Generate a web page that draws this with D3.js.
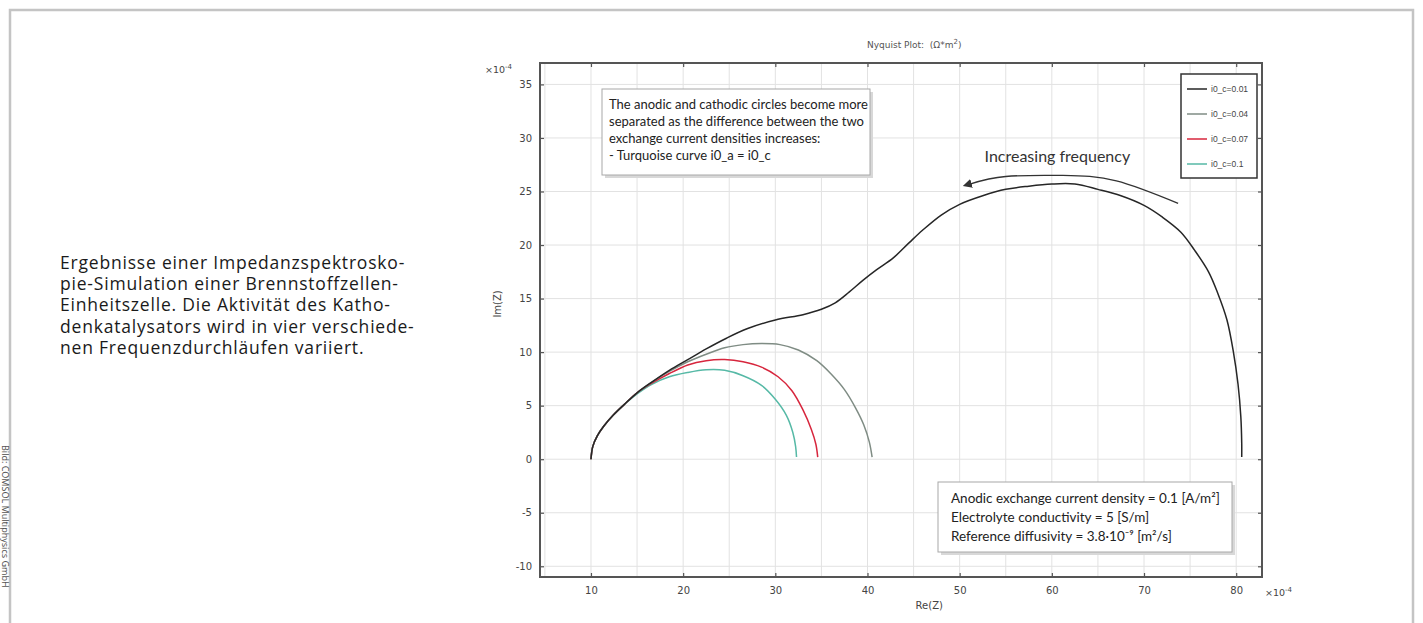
<!DOCTYPE html>
<html>
<head>
<meta charset="utf-8">
<script src="https://cdn.jsdelivr.net/npm/d3@7"></script>
<style>
  body { margin: 0; background: #fff; }
  svg { display: block; }
</style>
</head>
<body>
<div id="chart"></div>
<script>
// Input Data (units of 1e-4 Ohm*m^2)
var seriesNames = ["i0_c=0.01", "i0_c=0.04", "i0_c=0.07", "i0_c=0.1"];
var seriesColors = ["#262626", "#7f8c84", "#d7263d", "#56b9a6"];

var re001 = [10, 10.2, 10.7, 11.4, 12.4, 13.6, 15, 16.6, 18.5, 20.5, 22.5, 24.7, 27, 30, 33, 35, 36.5, 38, 39.5, 41, 42.8, 44.5, 46, 48, 50, 52.5, 55, 57.5, 60, 62.5, 65, 67.5, 70, 72, 74, 75.5, 77, 78, 79, 79.7, 80.2, 80.5, 80.6, 80.6];
var im001 = [0, 1.2, 2.2, 3.1, 4.1, 5.1, 6.2, 7.2, 8.3, 9.3, 10.3, 11.3, 12.2, 13, 13.5, 14, 14.6, 15.6, 16.7, 17.7, 18.8, 20.2, 21.4, 22.8, 23.8, 24.6, 25.2, 25.5, 25.7, 25.7, 25.2, 24.6, 23.7, 22.6, 21.2, 19.5, 17.5, 15.5, 13, 10, 7, 4, 1.5, 0.2];

var re004 = [10, 10.2, 10.7, 11.4, 12.4, 13.6, 15, 16.6, 18.5, 20.5, 22.5, 24.5, 26.5, 28.5, 30.5, 32.5, 34.5, 36, 37.5, 38.7, 39.6, 40.2, 40.5];
var im004 = [0, 1.2, 2.2, 3.1, 4.1, 5.1, 6.2, 7.2, 8.2, 9.1, 9.8, 10.4, 10.7, 10.8, 10.7, 10.2, 9.2, 8, 6.5, 4.8, 3.2, 1.6, 0.2];

var re007 = [10, 10.2, 10.7, 11.4, 12.4, 13.6, 15, 16.6, 18.5, 20.5, 22.5, 24.5, 26.5, 28.5, 30.3, 31.8, 33, 33.9, 34.4, 34.6];
var im007 = [0, 1.2, 2.2, 3.1, 4.1, 5.1, 6.2, 7.1, 8.0, 8.8, 9.2, 9.3, 9.1, 8.6, 7.7, 6.4, 4.6, 2.8, 1.4, 0.2];

var re01 = [10, 10.2, 10.7, 11.4, 12.4, 13.6, 15, 16.6, 18.5, 20.5, 22.5, 24.5, 26.5, 28.5, 30, 31.2, 31.9, 32.2, 32.3];
var im01 = [0, 1.2, 2.2, 3.1, 4.1, 5.1, 6.1, 7.0, 7.7, 8.1, 8.35, 8.3, 7.8, 6.9, 5.6, 4.1, 2.5, 1.2, 0.2];

var xTicks = [10, 20, 30, 40, 50, 60, 70, 80];
var yTicks = [-10, -5, 0, 5, 10, 15, 20, 25, 30, 35];
var gridX = [5, 10, 15, 20, 25, 30, 35, 40, 45, 50, 55, 60, 65, 70, 75, 80];
var gridY = [-10, -5, 0, 5, 10, 15, 20, 25, 30, 35];

// arrow for "Increasing frequency"
var arrowRe = [73.7, 67, 61.2, 55, 51.1];
var arrowIm = [23.9, 26.0, 26.5, 26.4, 25.7];

var noteLines = ["The anodic and cathodic circles become more",
                 "separated as the difference between the two",
                 "exchange current densities increases:",
                 "- Turquoise curve i0_a = i0_c"];
var paramLines = ["Anodic exchange current density = 0.1 [A/m\u00b2]",
                  "Electrolyte conductivity = 5 [S/m]",
                  "Reference diffusivity = 3.8\u00b710\u207b\u2079 [m\u00b2/s]"];
var captionLines = ["Ergebnisse einer Impedanzspektrosko-",
                    "pie-Simulation einer Brennstoffzellen-",
                    "Einheitszelle. Die Aktivit\u00e4t des Katho-",
                    "denkatalysators wird in vier verschiede-",
                    "nen Frequenzdurchl\u00e4ufen variiert."];

var series = [
      { name: seriesNames[0], color: seriesColors[0], re: re001, im: im001 },
      { name: seriesNames[1], color: seriesColors[1], re: re004, im: im004 },
      { name: seriesNames[2], color: seriesColors[2], re: re007, im: im007 },
      { name: seriesNames[3], color: seriesColors[3], re: re01, im: im01 }
];

var W = 1423, H = 623;
var plot = { left: 540, right: 1262, top: 63, bottom: 577 };

var svg = d3.select("#chart")
      .append("svg")
      .attr("width", W)
      .attr("height", H);

var defs = svg.append("defs");
defs.append("marker")
      .attr("id", "arrowhead")
      .attr("viewBox", "0 0 10 10")
      .attr("refX", 2).attr("refY", 5)
      .attr("markerWidth", 7).attr("markerHeight", 7)
      .attr("orient", "auto-start-reverse")
      .append("path")
      .attr("d", "M0,0 L10,5 L0,10 z")
      .attr("fill", "#333");

// page frame
svg.append("path")
      .attr("d", "M10,623 L10,10 L1413,10 L1413,623")
      .attr("fill", "none")
      .attr("stroke", "#c4c4c4")
      .attr("stroke-width", 2.5);

// credit text
svg.append("text")
      .attr("transform", "translate(2,445)rotate(90)")
      .attr("font-family", "Noto Sans")
      .attr("font-size", 9)
      .attr("fill", "#555")
      .text("Bild: COMSOL Multiphysics GmbH");

// caption on the left
svg.append("g").selectAll("text")
      .data(captionLines)
      .enter()
      .append("text")
      .attr("x", 60)
      .attr("y", function (d, i) { return 269 + i * 21.2; })
      .attr("font-family", "Open Sans")
      .attr("font-size", 17.5)
      .attr("letter-spacing", 0.8)
      .attr("fill", "#1a1a1a")
      .text(function (d) { return d; });

// scales
var xScale = d3.scaleLinear().domain([4.47, 82.8]).range([plot.left, plot.right]);
var yScale = d3.scaleLinear().domain([-11, 37]).range([plot.bottom, plot.top]);

// title
svg.append("text")
      .attr("x", 867).attr("y", 48)
      .attr("font-family", "DejaVu Sans")
      .attr("font-size", 9)
      .attr("fill", "#555")
      .html("Nyquist Plot: &#160;(\u03a9*m<tspan dy='-4' font-size='7'>2</tspan><tspan dy='4'>)</tspan>");

// grid
var grid = svg.append("g").attr("stroke", "#e2e2e2").attr("stroke-width", 1);
grid.selectAll("line.gx")
      .data(gridX)
      .enter()
      .append("line")
      .attr("x1", function (d) { return xScale(d); })
      .attr("x2", function (d) { return xScale(d); })
      .attr("y1", plot.top)
      .attr("y2", plot.bottom);
grid.selectAll("line.gy")
      .data(gridY)
      .enter()
      .append("line")
      .attr("x1", plot.left)
      .attr("x2", plot.right)
      .attr("y1", function (d) { return yScale(d); })
      .attr("y2", function (d) { return yScale(d); });

// axes
function styleAxis(g) {
      g.select(".domain").remove();
      g.selectAll(".tick line").attr("stroke", "#555").attr("stroke-width", 1.2);
      g.selectAll("text")
            .attr("font-family", "DejaVu Sans")
            .attr("font-size", 10)
            .attr("fill", "#444");
}
svg.append("g")
      .attr("transform", "translate(0," + plot.bottom + ")")
      .call(d3.axisBottom(xScale).tickValues(xTicks).tickSizeInner(-4).tickSizeOuter(0).tickPadding(10))
      .call(styleAxis);
svg.append("g")
      .attr("transform", "translate(0," + plot.top + ")")
      .call(d3.axisTop(xScale).tickValues(xTicks).tickSizeInner(-4).tickSizeOuter(0).tickFormat(""))
      .call(styleAxis);
svg.append("g")
      .attr("transform", "translate(" + plot.left + ",0)")
      .call(d3.axisLeft(yScale).tickValues(yTicks).tickSizeInner(-4).tickSizeOuter(0).tickPadding(8)
            .tickFormat(function (d) { return String(d); }))
      .call(styleAxis);
svg.append("g")
      .attr("transform", "translate(" + plot.right + ",0)")
      .call(d3.axisRight(yScale).tickValues(yTicks).tickSizeInner(-4).tickSizeOuter(0).tickFormat(""))
      .call(styleAxis);

// exponent labels and axis titles
svg.append("text")
      .attr("x", 512).attr("y", 73)
      .attr("text-anchor", "end")
      .attr("font-family", "DejaVu Sans").attr("font-size", 9.5).attr("fill", "#444")
      .html("\u00d710<tspan dy='-4' font-size='7'>-4</tspan>");
svg.append("text")
      .attr("x", 1265).attr("y", 596)
      .attr("font-family", "DejaVu Sans").attr("font-size", 9.5).attr("fill", "#444")
      .html("\u00d710<tspan dy='-4' font-size='7'>-4</tspan>");
svg.append("text")
      .attr("x", xScale(46.7)).attr("y", 609)
      .attr("text-anchor", "middle")
      .attr("font-family", "DejaVu Sans").attr("font-size", 10).attr("fill", "#444")
      .text("Re(Z)");
svg.append("text")
      .attr("transform", "translate(501," + yScale(14.5) + ")rotate(-90)")
      .attr("text-anchor", "middle")
      .attr("font-family", "DejaVu Sans").attr("font-size", 10).attr("fill", "#444")
      .text("Im(Z)");

// curves
var line = d3.line()
      .x(function (d) { return xScale(d[0]); })
      .y(function (d) { return yScale(d[1]); })
      .curve(d3.curveCatmullRom);

svg.append("g").selectAll("path")
      .data(series.slice().reverse())
      .enter()
      .append("path")
      .attr("d", function (s) { return line(d3.zip(s.re, s.im)); })
      .attr("fill", "none")
      .attr("stroke", function (s) { return s.color; })
      .attr("stroke-width", 1.5);

// plot frame
svg.append("rect")
      .attr("x", plot.left).attr("y", plot.top)
      .attr("width", plot.right - plot.left)
      .attr("height", plot.bottom - plot.top)
      .attr("fill", "none")
      .attr("stroke", "#555")
      .attr("stroke-width", 2);

// note box (top left)
var note = svg.append("g");
note.append("rect")
      .attr("x", 605).attr("y", 92).attr("width", 268).attr("height", 86)
      .attr("fill", "#d8d8d8");
note.append("rect")
      .attr("x", 602).attr("y", 89).attr("width", 268).attr("height", 86)
      .attr("fill", "#fff").attr("stroke", "#a8a8a8").attr("stroke-width", 1);
note.selectAll("text")
      .data(noteLines)
      .enter()
      .append("text")
      .attr("x", 609)
      .attr("y", function (d, i) { return 109 + i * 17; })
      .attr("font-family", "Lato")
      .attr("font-size", 13)
      .attr("fill", "#222")
      .text(function (d) { return d; });

// parameter box (bottom right)
var params = svg.append("g");
params.append("rect")
      .attr("x", 941).attr("y", 485).attr("width", 294).attr("height", 70)
      .attr("fill", "#d8d8d8");
params.append("rect")
      .attr("x", 938).attr("y", 482).attr("width", 294).attr("height", 70)
      .attr("fill", "#fff").attr("stroke", "#a8a8a8").attr("stroke-width", 1);
params.selectAll("text")
      .data(paramLines)
      .enter()
      .append("text")
      .attr("x", 951)
      .attr("y", function (d, i) { return 503 + i * 19; })
      .attr("font-family", "Lato")
      .attr("font-size", 13.5)
      .attr("fill", "#222")
      .text(function (d) { return d; });

// increasing frequency annotation
svg.append("text")
      .attr("x", xScale(60.6)).attr("y", 162)
      .attr("text-anchor", "middle")
      .attr("font-family", "Lato")
      .attr("font-size", 16)
      .attr("fill", "#333")
      .text("Increasing frequency");
svg.append("path")
      .attr("d", line.curve(d3.curveNatural)(d3.zip(arrowRe, arrowIm)))
      .attr("fill", "none")
      .attr("stroke", "#333")
      .attr("stroke-width", 1.3)
      .attr("marker-end", "url(#arrowhead)");

// legend
var legend = svg.append("g");
legend.append("rect")
      .attr("x", 1181).attr("y", 74).attr("width", 76).attr("height", 104)
      .attr("fill", "#fff").attr("stroke", "#333").attr("stroke-width", 1.5);
var items = legend.selectAll("g")
      .data(series)
      .enter()
      .append("g")
      .attr("transform", function (d, i) { return "translate(1187," + (89 + i * 25) + ")"; });
items.append("line")
      .attr("x1", 0).attr("x2", 20)
      .attr("stroke", function (d) { return d.color; })
      .attr("stroke-width", 1.5);
items.append("text")
      .attr("x", 24).attr("y", 3)
      .attr("font-family", "Liberation Sans")
      .attr("font-size", 8.5)
      .attr("fill", "#444")
      .text(function (d) { return d.name; });
</script>
</body>
</html>
